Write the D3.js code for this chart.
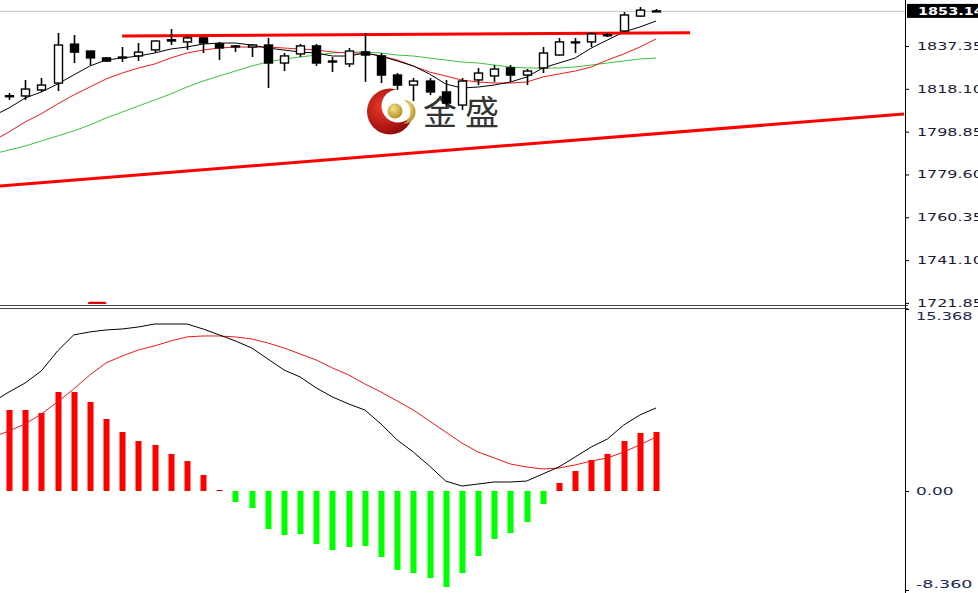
<!DOCTYPE html>
<html><head><meta charset="utf-8">
<script src="https://cdn.jsdelivr.net/npm/d3@7"></script>
<style>body{margin:0;background:#fff;overflow:hidden}svg{display:block}</style>
</head><body>
<svg id="c" width="978" height="593"></svg>
<script>
// ---- data (index 0 is a partly hidden bar at the left edge) ----
const opens  = [1812.0,1814.9,1814.9,1817.6,1820.7,1838.2,1835.1,1832.0,1832.3,1832.9,1835.6,1839.6,1839.2,1841.0,1838.3,1837.3,1836.9,1837.8,1829.7,1833.8,1837.4,1830.4,1829.3,1834.7,1832.9,1824.3,1819.8,1821.6,1816.7,1810.8,1822.1,1823.9,1827.5,1824.3,1827.5,1833.3,1839.1,1839.2,1842.4,1844.1,1850.8,1853.0];
const highs  = [1814.0,1816.2,1822.1,1823.0,1843.2,1842.3,1835.1,1832.4,1836.9,1838.7,1839.8,1845.0,1841.9,1841.2,1839.2,1837.8,1838.0,1841.0,1834.2,1838.3,1838.3,1832.4,1836.5,1843.2,1834.2,1825.2,1823.0,1823.0,1822.1,1823.0,1827.5,1828.8,1828.8,1827.0,1836.9,1841.0,1841.0,1843.6,1843.2,1852.6,1854.9,1854.0];
const lows   = [1810.0,1813.1,1813.1,1816.7,1817.1,1829.7,1828.8,1830.2,1830.2,1830.6,1834.2,1837.8,1835.6,1834.2,1831.1,1834.7,1832.4,1818.5,1826.1,1832.4,1828.4,1825.7,1827.9,1821.2,1820.7,1817.6,1812.6,1815.3,1809.9,1808.6,1819.8,1821.2,1821.2,1819.8,1825.2,1833.0,1834.2,1836.9,1841.4,1843.6,1850.4,1852.6];
const closes = [1813.0,1815.0,1818.0,1819.8,1837.8,1834.6,1832.0,1830.6,1832.4,1834.6,1839.6,1840.2,1841.0,1838.7,1836.5,1837.4,1837.8,1829.7,1832.9,1837.4,1829.7,1830.6,1835.1,1833.3,1824.3,1819.8,1821.6,1816.7,1811.7,1821.6,1825.2,1827.0,1824.3,1826.1,1834.2,1839.2,1839.2,1842.8,1842.3,1851.3,1853.5,1853.14];

const maFast = [1805.87,1809.47,1813.97,1816.67,1820.26,1824.31,1828.36,1831.06,1831.95,1832.85,1834.20,1836.00,1836.90,1838.25,1838.70,1838.70,1837.80,1836.45,1835.55,1834.65,1834.20,1832.85,1832.85,1834.20,1832.85,1830.61,1828.36,1824.76,1820.26,1818.47,1818.91,1819.81,1821.16,1823.41,1827.46,1829.71,1831.95,1836.45,1840.05,1843.64,1845.89,1848.59];
const maMid  = [1794.60,1798.70,1803.20,1806.90,1811.27,1815.32,1818.91,1822.51,1825.21,1827.46,1829.26,1831.95,1834.20,1835.55,1836.45,1836.90,1836.90,1836.90,1836.45,1836.00,1835.55,1834.65,1834.20,1834.20,1832.85,1831.06,1828.36,1825.66,1823.86,1822.06,1821.16,1820.71,1820.71,1821.16,1823.41,1824.76,1826.11,1827.91,1831.06,1833.75,1836.90,1840.50];
const maSlow = [1788.79,1790.59,1792.38,1794.63,1796.88,1799.13,1801.83,1804.97,1807.67,1810.37,1813.07,1815.77,1818.91,1821.61,1823.86,1826.11,1828.36,1830.16,1831.51,1832.40,1833.30,1834.20,1834.65,1834.65,1834.20,1833.30,1832.85,1831.95,1831.06,1830.16,1829.71,1828.81,1827.91,1827.46,1827.46,1827.46,1827.91,1828.81,1829.71,1830.61,1831.51,1831.95];

const dif  = [7.52,8.36,9.12,10.14,11.82,13.18,13.43,13.60,13.68,13.85,14.10,14.10,14.10,13.68,13.18,12.67,12.08,11.15,10.22,9.63,8.70,7.94,7.35,6.84,5.66,4.31,3.29,2.11,0.84,0.42,0.59,0.76,0.76,0.84,1.44,2.03,2.87,3.72,4.39,5.57,6.42,7.01];
const dea  = [4.56,5.07,5.66,6.50,7.52,8.61,9.80,10.81,11.40,11.91,12.25,12.67,13.01,13.09,13.09,13.01,12.84,12.50,12.08,11.57,11.06,10.39,9.80,9.04,8.36,7.60,6.84,5.91,4.98,4.05,3.29,2.79,2.28,2.03,1.86,1.94,2.20,2.53,2.79,3.29,3.89,4.56];
const hist = [6.00,6.84,6.84,6.59,8.36,8.36,7.52,6.08,4.98,4.22,3.89,3.13,2.53,1.35,0.08,-0.93,-1.44,-3.21,-3.72,-3.63,-4.48,-4.98,-4.73,-4.65,-5.57,-6.67,-6.93,-7.35,-8.11,-6.93,-5.49,-4.05,-3.55,-2.62,-1.10,0.68,1.69,2.62,3.13,4.22,4.90,4.98];

const priceTicks = [1837.35,1818.10,1798.85,1779.60,1760.35,1741.10,1721.85];
const lastPrice = 1853.14;
const macdTicks = [15.368, 0, -8.360];
const macdTickLabels = ["15.368","0.00","-8.360"];
const resistanceLine = [{i:8.0,p:1841.9},{i:43.1,p:1843.3}];
const supportLine = [{i:0.44,p:1774.4},{i:56.33,p:1806.8}];
const bottomMark = [{i:6.0,p:1721.5},{i:6.9,p:1721.5}];
const logoText = "金盛";

// ---- layout ----
const W = 978, H = 593, axisX = 905;
const svg = d3.select("#c");
const x = d3.scaleLinear().domain([0, 41]).range([-7.2, 656]);
const yP = d3.scaleLinear().domain([1721.85, 1853.14]).range([302.9, 10.9]);
const yM = d3.scaleLinear().domain([0, 15.368]).range([491, 309]);

const defs = svg.append("defs");
defs.append("clipPath").attr("id","cpMain").append("rect").attr("x",0).attr("y",0).attr("width",axisX).attr("height",304);
defs.append("clipPath").attr("id","cpMacd").append("rect").attr("x",0).attr("y",309).attr("width",axisX).attr("height",H-309);
const rg = defs.append("radialGradient").attr("id","gRed").attr("cx","35%").attr("cy","40%").attr("r","70%");
rg.append("stop").attr("offset","0%").attr("stop-color","#f03a2a");
rg.append("stop").attr("offset","100%").attr("stop-color","#8a0508");
const gg = defs.append("radialGradient").attr("id","gGold").attr("cx","40%").attr("cy","35%").attr("r","70%");
gg.append("stop").attr("offset","0%").attr("stop-color","#f4e28a");
gg.append("stop").attr("offset","100%").attr("stop-color","#b08a1c");

svg.append("rect").attr("width",W).attr("height",H).attr("fill","#fff");

// ---- watermark logo ----
const logo = svg.append("g");
logo.append("circle").attr("cx",390).attr("cy",111.5).attr("r",23).attr("fill","url(#gRed)");
logo.append("circle").attr("cx",398).attr("cy",106).attr("r",16.5).attr("fill","#fff");
logo.append("path").attr("d","M404,100 A12,12 0 0 1 403,124 A14,14 0 0 0 404,100 Z").attr("fill","url(#gGold)");
logo.append("circle").attr("cx",395).attr("cy",111).attr("r",7.5).attr("fill","url(#gGold)");
logo.append("text").attr("x",423).attr("y",125).attr("font-family","'Noto Sans CJK SC'")
  .attr("font-size",34).attr("letter-spacing",8).attr("fill","#333").text(logoText);

// ---- main panel ----
const gm = svg.append("g").attr("clip-path","url(#cpMain)");
gm.append("line").attr("x1",0).attr("x2",axisX).attr("y1",yP(lastPrice)+0.5).attr("y2",yP(lastPrice)+0.5)
  .attr("stroke","#c4c4c4").attr("stroke-width",1);

const line = (arr) => d3.line().x((d,i)=>x(i)).y(d=>yP(d))(arr);
gm.append("path").attr("d",line(maSlow)).attr("fill","none").attr("stroke","#3cc13c").attr("stroke-width",1);
gm.append("path").attr("d",line(maMid)).attr("fill","none").attr("stroke","#f01818").attr("stroke-width",1);
gm.append("path").attr("d",line(maFast)).attr("fill","none").attr("stroke","#000").attr("stroke-width",1);

const segLine = d3.line().x(d=>x(d.i)).y(d=>yP(d.p));
gm.append("path").attr("d",segLine(supportLine)).attr("fill","none").attr("stroke","#ff0000").attr("stroke-width",3);
gm.append("path").attr("d",segLine(resistanceLine)).attr("fill","none").attr("stroke","#ff0000").attr("stroke-width",3);
gm.append("path").attr("d",segLine(bottomMark)).attr("fill","none").attr("stroke","#e00000").attr("stroke-width",4).attr("stroke-linecap","round");

const idx = d3.range(opens.length);
const cg = gm.append("g");
cg.selectAll("line.wick").data(idx).join("line").attr("class","wick")
  .attr("x1",i=>Math.round(x(i))+0.5).attr("x2",i=>Math.round(x(i))+0.5)
  .attr("y1",i=>yP(highs[i])).attr("y2",i=>yP(lows[i]))
  .attr("stroke","#000").attr("stroke-width",1.6);
cg.selectAll("rect.body").data(idx).join("rect").attr("class","body")
  .attr("x",i=>Math.round(x(i))-3.5).attr("width",8)
  .attr("y",i=>yP(Math.max(opens[i],closes[i])))
  .attr("height",i=>Math.max(1,Math.abs(yP(opens[i])-yP(closes[i]))))
  .attr("fill",i=>closes[i]>=opens[i]?"#fff":"#000")
  .attr("stroke","#000").attr("stroke-width",1.4);

// ---- MACD panel ----
const gd = svg.append("g").attr("clip-path","url(#cpMacd)");
gd.selectAll("rect.bar").data(idx).join("rect").attr("class","bar")
  .attr("x",i=>Math.round(x(i))-2.5).attr("width",6)
  .attr("y",i=>Math.min(yM(0),yM(hist[i])))
  .attr("height",i=>Math.max(1,Math.abs(yM(hist[i])-yM(0))))
  .attr("fill",i=>hist[i]>=0?(hist[i]<0.3?"#b00000":"#ff0000"):"#00ff00");
const lineM = (arr) => d3.line().x((d,i)=>x(i)).y(d=>yM(d))(arr);
gd.append("path").attr("d",lineM(dea)).attr("fill","none").attr("stroke","#f01818").attr("stroke-width",1);
gd.append("path").attr("d",lineM(dif)).attr("fill","none").attr("stroke","#000").attr("stroke-width",1);

// ---- frames ----
svg.append("line").attr("x1",0).attr("x2",axisX+3).attr("y1",305.5).attr("y2",305.5).attr("stroke","#4a4a4a");
svg.append("line").attr("x1",0).attr("x2",axisX+3).attr("y1",308.5).attr("y2",308.5).attr("stroke","#4a4a4a");
svg.append("line").attr("x1",axisX+0.5).attr("x2",axisX+0.5).attr("y1",0).attr("y2",H).attr("stroke","#000");

// ---- axes ----
const charW = 9.4;
const ax = svg.append("g").attr("transform",`translate(${axisX},0)`)
  .call(d3.axisRight(yP).tickValues(priceTicks).tickSize(4).tickSizeOuter(0).tickPadding(8).tickFormat(d3.format(".2f")));
ax.select(".domain").remove();
ax.selectAll("text").attr("font-family","'DejaVu Sans'").attr("font-size",11).attr("fill","#1c1c38")
  .each(function(){ const t=d3.select(this).text(); d3.select(this).attr("textLength",t.length*charW).attr("lengthAdjust","spacingAndGlyphs"); });
ax.selectAll("line").attr("stroke","#000");

const am = svg.append("g").attr("transform",`translate(${axisX},0)`)
  .call(d3.axisRight(yM).tickValues(macdTicks).tickSize(4).tickSizeOuter(0).tickPadding(7).tickFormat((d,i)=>macdTickLabels[i]));
am.select(".domain").remove();
am.selectAll("text").attr("font-family","'DejaVu Sans'").attr("font-size",11).attr("fill","#1c2850")
  .attr("dy",(d,i)=>i===0?"0.95em":(i===2?"-0.2em":"0.32em"))
  .each(function(){ const t=d3.select(this).text(); d3.select(this).attr("textLength",t.length*charW).attr("lengthAdjust","spacingAndGlyphs"); });
am.selectAll("line").attr("stroke","#000");

// last price box
const lp = svg.append("g");
lp.append("rect").attr("x",axisX+2).attr("y",yP(lastPrice)-7).attr("width",W-axisX).attr("height",14).attr("fill","#000");
const lpt = d3.format(".2f")(lastPrice);
lp.append("text").attr("x",axisX+13).attr("y",yP(lastPrice)).attr("dy","0.35em")
  .attr("font-family","'DejaVu Sans'").attr("font-size",11).attr("font-weight","bold").attr("fill","#fff")
  .attr("textLength",lpt.length*charW).attr("lengthAdjust","spacingAndGlyphs").text(lpt);
</script>
</body></html>
